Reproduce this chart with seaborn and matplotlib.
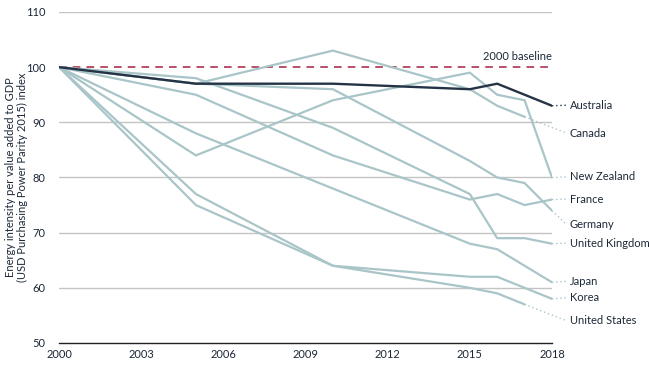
import numpy as np
import pandas as pd
import seaborn as sns
from matplotlib import pyplot as plt

# values (index, 2000 = 100)
years = [2000, 2005, 2010, 2015, 2016, 2017, 2018]
countries = ['Australia', 'Canada', 'New Zealand', 'France', 'Germany',
             'United Kingdom', 'Japan', 'Korea', 'United States']
australia = [100, 97, 97, 96, 97, 95, 93]
canada = [100, 97, 103, 96, 93, 91, np.nan]
new_zealand = [100, 84, 94, 99, 95, 94, 80]
france = [100, 95, 84, 76, 77, 75, 76]
germany = [100, 97, 96, 83, 80, 79, 74]
united_kingdom = [100, 98, 89, 77, 69, 69, 68]
japan = [100, 88, 78, 68, 67, 64, 61]
korea = [100, 77, 64, 62, 62, 60, 58]
united_states = [100, 75, 64, 60, 59, 57, np.nan]
# where the right-hand labels sit (in index units)
label_pos = [93.1, 88.0, 80.1, 76.1, 71.4, 68.1, 61.2, 58.2, 54.0]

series = [australia, canada, new_zealand, france, germany,
          united_kingdom, japan, korea, united_states]

TEAL = '#a9c5c8'
DARK = '#243345'
TEXT = '#1c2838'
FS = 8


def build_frame():
    """Long table of country / year / index for seaborn."""
    rows = []
    for name, vals in zip(countries, series):
        for yr, v in zip(years, vals):
            rows.append({'Country': name, 'Year': yr, 'Index': v})
    return pd.DataFrame(rows).dropna()


def main():
    sns.set_theme(style='white')
    plt.rcParams['font.family'] = ['Lato', 'DejaVu Sans']

    df = build_frame()
    palette = {c: TEAL for c in countries}
    palette['Australia'] = DARK

    fig = plt.figure(figsize=(6.49, 3.71), dpi=100)
    ax = fig.add_axes([0.0909, 0.0755, 0.7596, 0.8922])

    for y in [60, 70, 80, 90, 110]:
        ax.axhline(y, color='#c4c4c4', lw=1.0, zorder=0)
    ax.axhline(100, color='#a3213f', lw=1.1, dashes=(5, 4), zorder=1)
    ax.text(2018, 101, '2000 baseline', ha='right', va='bottom',
            fontsize=FS, color=TEXT)

    # teal countries first, Australia drawn on top
    others = df[df['Country'] != 'Australia']
    sns.lineplot(data=others, x='Year', y='Index', hue='Country',
                 palette=palette, linewidth=1.6, legend=False, ax=ax,
                 zorder=2)
    sns.lineplot(data=df[df['Country'] == 'Australia'], x='Year', y='Index',
                 color=DARK, linewidth=1.7, ax=ax, zorder=3)

    # dotted leaders and labels on the right
    for name, vals, lab in zip(countries, series, label_pos):
        last = [(yr, v) for yr, v in zip(years, vals) if not np.isnan(v)][-1]
        col = DARK if name == 'Australia' else TEAL
        ax.plot([last[0], 2018.55], [last[1], lab], ls=(0, (1, 2)),
                color=col, lw=1.0, clip_on=False)
        ax.text(2018.65, lab, name, ha='left', va='center', fontsize=FS,
                color=TEXT, clip_on=False)

    ax.set_xlim(2000, 2018)
    ax.set_ylim(50, 110)
    ax.set_xticks([2000, 2003, 2006, 2009, 2012, 2015, 2018])
    ax.set_yticks([50, 60, 70, 80, 90, 100, 110])
    ax.tick_params(axis='both', length=0, labelsize=FS, colors=TEXT)
    ax.tick_params(axis='y', pad=10)
    ax.tick_params(axis='x', pad=4)
    ax.set_xlabel('')
    ax.set_ylabel('Energy intensity per value added to GDP\n'
                  '(USD Purchasing Power Parity 2015) index',
                  fontsize=FS, color=TEXT, linespacing=1.15)
    ax.yaxis.set_label_coords(-0.062, 0.5)

    for side in ['top', 'right', 'left']:
        ax.spines[side].set_visible(False)
    ax.spines['bottom'].set_color('#222222')
    ax.spines['bottom'].set_linewidth(1.0)

    fig.savefig('out.png', dpi=100)


if __name__ == '__main__':
    main()
